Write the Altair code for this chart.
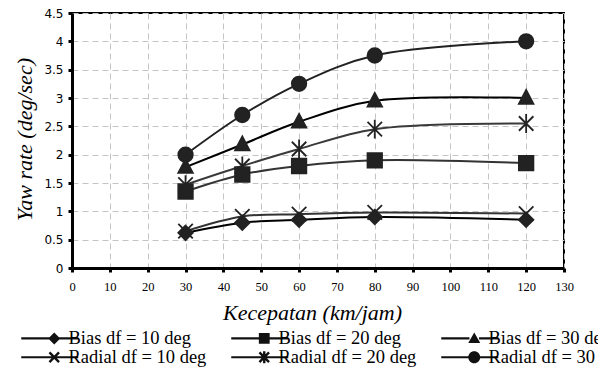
import math
import altair as alt
import pandas as pd

# ---- data ----
speed = [30, 45, 60, 80, 120]
series_names = ["Bias df = 10 deg", "Bias df = 20 deg", "Bias df = 30 deg",
                "Radial df = 10 deg", "Radial df = 20 deg", "Radial df = 30 deg"]
bias_10 = [0.62, 0.80, 0.85, 0.90, 0.85]
bias_20 = [1.35, 1.65, 1.80, 1.90, 1.85]
bias_30 = [1.78, 2.18, 2.58, 2.95, 3.00]
radial_10 = [0.65, 0.91, 0.95, 0.98, 0.96]
radial_20 = [1.47, 1.80, 2.10, 2.45, 2.55]
radial_30 = [2.00, 2.70, 3.25, 3.75, 4.00]
x_ticks = [0, 10, 20, 30, 40, 50, 60, 70, 80, 90, 100, 110, 120, 130]
y_ticks = [0, 0.5, 1, 1.5, 2, 2.5, 3, 3.5, 4, 4.5]

all_values = [bias_10, bias_20, bias_30, radial_10, radial_20, radial_30]
rows = []
for name, vals in zip(series_names, all_values):
    for s, v in zip(speed, vals):
        rows.append({"series": name, "speed": s, "yaw": v})
df = pd.DataFrame(rows)

# ---- marker shapes (unit paths) ----
line_colors = ["#000000", "#333333", "#000000", "#333333", "#3a3a3a", "#222222"]
diamond = "M0,-1L1,0L0,1L-1,0Z"
square = "M-1,-1L1,-1L1,1L-1,1Z"
triangle = "M0,-1.1L1,0.8L-1,0.8Z"
xcross = "M-1,-1L1,1M-1,1L1,-1"
asterisk = "M-1,-1L1,1M-1,1L1,-1M0,-1.3L0,1.3"
circle = "M1,0A1,1,0,1,1,-1,0A1,1,0,1,1,1,0Z"
marker_paths = [diamond, square, triangle, xcross, asterisk, circle]


def bar(x1, y1, x2, y2, w=0.17):
    # thin filled quad along a segment (same winding for every segment)
    dx, dy = x2 - x1, y2 - y1
    n = math.hypot(dx, dy)
    nx, ny = -dy / n * w, dx / n * w
    pts = [(x1 + nx, y1 + ny), (x2 + nx, y2 + ny), (x2 - nx, y2 - ny), (x1 - nx, y1 - ny)]
    return "M" + "L".join(f"{a:.3f},{b:.3f}" for a, b in pts) + "Z"


split_line = bar(-5.5, 0, -0.8, 0) + bar(0.8, 0, 4, 0)
full_line = bar(-5.5, 0, 4, 0)
leg_diamond = split_line + "M0,-1L-1,0L0,1L1,0Z"
leg_square = split_line + "M-0.9,-0.9L-0.9,0.9L0.9,0.9L0.9,-0.9Z"
leg_triangle = split_line + "M0,-1L-1,0.75L1,0.75Z"
leg_x = full_line + bar(-0.8, -0.8, 0.8, 0.8, 0.2) + bar(-0.8, 0.8, 0.8, -0.8, 0.2)
leg_ast = (full_line + bar(-0.8, -0.8, 0.8, 0.8, 0.2) + bar(-0.8, 0.8, 0.8, -0.8, 0.2)
           + bar(0, -1.0, 0, 1.0, 0.2))
leg_circle = split_line + "M1,0A1,1,0,1,0,-1,0A1,1,0,1,0,1,0Z"
legend_paths = [leg_diamond, leg_square, leg_triangle, leg_x, leg_ast, leg_circle]

x_enc = alt.X("speed:Q", scale=alt.Scale(domain=[0, 130], nice=False),
              axis=alt.Axis(values=x_ticks, title="Kecepatan (km/jam)",
                            labelFont="Liberation Serif", labelFontSize=12.5,
                            labelFlush=False, labelPadding=8,
                            titleFont="Liberation Serif", titleFontStyle="italic",
                            titleFontWeight="normal", titleFontSize=22,
                            titleX=240, titleY=51, titleAlign="center",
                            titleBaseline="alphabetic"))
y_enc = alt.Y("yaw:Q", scale=alt.Scale(domain=[0, 4.5], nice=False),
              axis=alt.Axis(values=y_ticks, format="~g", title="Yaw rate (deg/sec)",
                            labelFont="DejaVu Sans", labelFontSize=12,
                            labelPadding=5,
                            titleFont="Liberation Serif", titleFontStyle="italic",
                            titleFontWeight="normal", titleFontSize=22,
                            titleX=-41, titleY=126, titleAngle=270,
                            titleAlign="center", titleBaseline="alphabetic"))

lines = alt.Chart(df).mark_line(interpolate="catmull-rom", strokeWidth=2).encode(
    x=x_enc, y=y_enc,
    color=alt.Color("series:N", scale=alt.Scale(domain=series_names, range=line_colors),
                    legend=None),
)

points = alt.Chart(df).mark_point(filled=True, size=210, stroke="#222222",
                                  strokeWidth=1.8, opacity=1, color="#222222").encode(
    x=x_enc, y=y_enc,
    shape=alt.Shape("series:N", scale=alt.Scale(domain=series_names, range=marker_paths),
                    legend=None),
)

legend_layer = alt.Chart(df).mark_point(filled=True, size=144, opacity=0,
                                        color="#111111").encode(
    x=x_enc, y=y_enc,
    shape=alt.Shape("series:N", scale=alt.Scale(domain=series_names, range=legend_paths),
                    legend=alt.Legend(orient="none", legendX=-27, legendY=316,
                                      direction="horizontal", columns=3, title=None,
                                      labelFont="Liberation Serif", labelFontSize=18.5,
                                      labelColor="black", labelOffset=5,
                                      labelLimit=400,
                                      columnPadding=24, rowPadding=0,
                                      symbolSize=144, symbolStrokeWidth=0,
                                      symbolFillColor="#111111",
                                      symbolOpacity=1, padding=0)),
)

chart = alt.layer(lines, points, legend_layer).resolve_scale(
    shape="independent"
).properties(
    width=492, height=255,
    padding={"left": 64, "top": 5, "right": 34, "bottom": 102},
    autosize=alt.AutoSizeParams(type="none"),
).configure_view(
    stroke="black", strokeWidth=2
).configure_axis(
    domainColor="black", domainWidth=3,
    tickColor="black", tickSize=4, tickWidth=3,
    labelColor="black", titleColor="black",
    grid=True, gridColor="#c4c4c4", gridDash=[6, 4], gridWidth=1,
)

chart.save("out.html", embed_options={"renderer": "svg", "actions": False})
